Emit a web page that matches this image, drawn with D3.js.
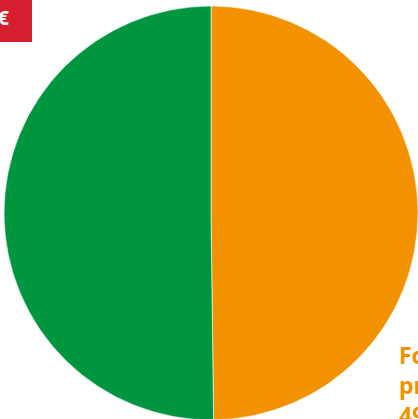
<!DOCTYPE html>
<html>
<head>
<meta charset="utf-8">
<script src="https://cdn.jsdelivr.net/npm/d3@7"></script>
<style>
  body { margin: 0; background: #fff; overflow: hidden; }
  svg { display: block; }
</style>
</head>
<body>
<svg id="chart" width="418" height="419"></svg>
<script>
// Dados do gráfico
const categories = ["Food products", "Other"];
const values = [49.8, 50.2];
const colors = ["#f39200", "#009640"];
const labelLines = ["Food", "products", "49.8 %"];

const svg = d3.select("#chart");
const width = 418, height = 419;

const cx = 211, cy = 213, radius = 207;

const pie = d3.pie().sort(null).value(d => d);
const arc = d3.arc().innerRadius(0).outerRadius(radius);

const g = svg.append("g").attr("transform", `translate(${cx},${cy})`);

g.selectAll("path")
    .data(pie(values))
    .enter().append("path")
    .attr("d", arc)
    .attr("fill", (d, i) => colors[i])
    .attr("stroke", "#fff")
    .attr("stroke-width", 0.6);

// Rótulo da fatia laranja
const label = svg.append("text")
    .attr("x", 399)
    .attr("y", 364)
    .attr("fill", "#f39200")
    .attr("font-family", "Open Sans, sans-serif")
    .attr("font-weight", "bold")
    .attr("font-size", 23);

label.selectAll("tspan")
    .data(labelLines)
    .enter().append("tspan")
    .attr("x", 399)
    .attr("dy", (d, i) => i === 0 ? 0 : 30)
    .text(d => d);

// Caixa vermelha no canto
svg.append("rect")
    .attr("x", 0).attr("y", 0)
    .attr("width", 32).attr("height", 42)
    .attr("fill", "#d51f2e");

svg.append("text")
    .attr("x", 9)
    .attr("y", 25)
    .attr("text-anchor", "end")
    .attr("fill", "#fff")
    .attr("font-family", "Open Sans, sans-serif")
    .attr("font-weight", "bold")
    .attr("font-size", 20)
    .text("100 €");
</script>
</body>
</html>
